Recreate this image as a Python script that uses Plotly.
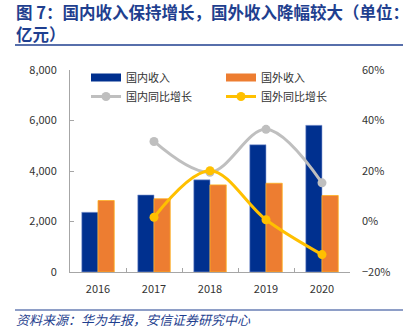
import plotly.graph_objects as go

years = ["2016", "2017", "2018", "2019", "2020"]
domestic_rev = [2365, 3051, 3650, 5040, 5810]       # 国内收入（亿元）
overseas_rev = [2830, 2900, 3450, 3515, 3030]       # 国外收入（亿元）
domestic_yoy = [None, 31.7, 19.5, 36.5, 15.3]       # 国内同比增长（%）
overseas_yoy = [None, 1.7, 20.1, 0.7, -13.1]        # 国外同比增长（%）

BLUE = "#00308F"
ORANGE = "#ED7D31"
GRAY = "#BFBFBF"
YELLOW = "#FFC000"
TITLE_BLUE = "#1F3F8F"
FONT = "Noto Sans CJK SC"

fig = go.Figure()
fig.add_trace(go.Bar(x=years, y=domestic_rev, name="国内收入", showlegend=False,
                     marker=dict(color=BLUE, line=dict(color="#8EA3D6", width=0.6))))
fig.add_trace(go.Bar(x=years, y=overseas_rev, name="国外收入", showlegend=False,
                     marker=dict(color=ORANGE, line=dict(color="#FFB01F", width=0.8))))
# wide flat legend keys for the two bar series
fig.add_trace(go.Scatter(x=[None], y=[None], name="国内收入", mode="lines",
                         line=dict(color=BLUE, width=8)))
fig.add_trace(go.Scatter(x=[None], y=[None], name="国外收入", mode="lines",
                         line=dict(color=ORANGE, width=8)))
fig.add_trace(go.Scatter(x=years, y=domestic_yoy, name="国内同比增长", yaxis="y2",
                         mode="lines+markers", line=dict(color=GRAY, width=3, shape="spline", smoothing=1.0),
                         marker=dict(color=GRAY, size=9)))
fig.add_trace(go.Scatter(x=years, y=overseas_yoy, name="国外同比增长", yaxis="y2",
                         mode="lines+markers", line=dict(color=YELLOW, width=3, shape="spline", smoothing=1.0),
                         marker=dict(color=YELLOW, size=9)))

L, R, T, B = 70, 60, 70, 60
W, H = 410, 332
pw, ph = W - L - R, H - T - B


def px(x):
    return (x - L) / pw


def py(y):
    return (H - B - y) / ph


fig.update_layout(
    width=W, height=H,
    margin=dict(l=L, r=R, t=T, b=B, autoexpand=False),
    paper_bgcolor="white", plot_bgcolor="white",
    font=dict(family=FONT, size=11, color="#333333"),
    barmode="group", bargap=0.42, bargroupgap=0,
    showlegend=True,
    legend=dict(orientation="h", x=px(86), y=py(63), xanchor="left", yanchor="top",
                entrywidth=90, entrywidthmode="pixels", bgcolor="rgba(0,0,0,0)",
                font=dict(size=11, color="#333333"), tracegroupgap=0, itemwidth=30),
    xaxis=dict(type="category", showline=True, linecolor="#A6A6A6", linewidth=1,
               ticks="inside", ticklen=4, tickcolor="#A6A6A6", tickson="boundaries",
               showgrid=False, tickfont=dict(size=11, color="#333333"),
               ticklabelstandoff=7),
    yaxis=dict(range=[0, 8000], dtick=2000, tickformat=",", showline=True,
               linecolor="#A6A6A6", linewidth=1, ticks="inside", ticklen=4,
               tickcolor="#A6A6A6", showgrid=False, zeroline=False,
               tickfont=dict(size=11, color="#333333"), ticklabelstandoff=10),
    yaxis2=dict(range=[-20, 60], dtick=20, ticksuffix="%", overlaying="y", side="right",
                showline=False, showgrid=False, zeroline=False,
                tickfont=dict(size=11, color="#333333"), ticklabelstandoff=11),
)

fig.add_annotation(text="<b>图 7：国内收入保持增长，国外收入降幅较大（单位：</b>",
                   xref="paper", yref="paper", x=px(14), y=py(12),
                   xanchor="left", yanchor="middle", showarrow=False,
                   font=dict(family=FONT, size=16.5, color=TITLE_BLUE))
fig.add_annotation(text="<b>亿元）</b>",
                   xref="paper", yref="paper", x=px(14), y=py(34),
                   xanchor="left", yanchor="middle", showarrow=False,
                   font=dict(family=FONT, size=16.5, color=TITLE_BLUE))
fig.add_shape(type="line", xref="paper", yref="paper", x0=px(15), x1=px(403),
              y0=py(45), y1=py(45), line=dict(color=TITLE_BLUE, width=1.5))
fig.add_shape(type="line", xref="paper", yref="paper", x0=px(15), x1=px(403),
              y0=py(310), y1=py(310), line=dict(color=TITLE_BLUE, width=1.2))
fig.add_annotation(text="<i>资料来源：华为年报，安信证券研究中心</i>",
                   xref="paper", yref="paper", x=px(14), y=py(319),
                   xanchor="left", yanchor="middle", showarrow=False,
                   font=dict(family=FONT, size=13, color=TITLE_BLUE))

fig.write_html("out.html")
